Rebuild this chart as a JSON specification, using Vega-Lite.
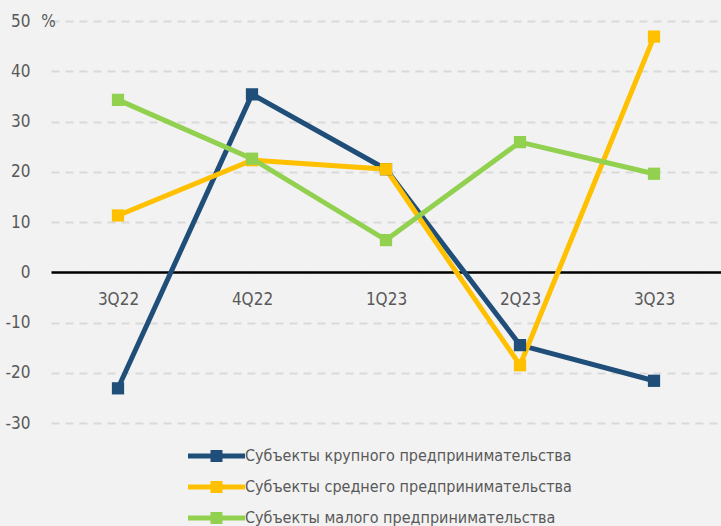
{
  "$schema": "https://vega.github.io/schema/vega-lite/v6.json",
  "width": 670,
  "height": 402,
  "autosize": {"type": "none"},
  "padding": {"left": 51, "top": 21, "right": 0, "bottom": 103},
  "background": "#f2f2f2",
  "config": {
    "view": {"stroke": null},
    "font": "DejaVu Sans Condensed"
  },
  "data": {
    "values": [
      {"q": "3Q22", "s": "Субъекты крупного предпринимательства", "v": -23.1},
      {"q": "4Q22", "s": "Субъекты крупного предпринимательства", "v": 35.4},
      {"q": "1Q23", "s": "Субъекты крупного предпринимательства", "v": 20.5},
      {"q": "2Q23", "s": "Субъекты крупного предпринимательства", "v": -14.5},
      {"q": "3Q23", "s": "Субъекты крупного предпринимательства", "v": -21.6},
      {"q": "3Q22", "s": "Субъекты среднего предпринимательства", "v": 11.3},
      {"q": "4Q22", "s": "Субъекты среднего предпринимательства", "v": 22.3},
      {"q": "1Q23", "s": "Субъекты среднего предпринимательства", "v": 20.5},
      {"q": "2Q23", "s": "Субъекты среднего предпринимательства", "v": -18.5},
      {"q": "3Q23", "s": "Субъекты среднего предпринимательства", "v": 46.9},
      {"q": "3Q22", "s": "Субъекты малого предпринимательства", "v": 34.3},
      {"q": "4Q22", "s": "Субъекты малого предпринимательства", "v": 22.6},
      {"q": "1Q23", "s": "Субъекты малого предпринимательства", "v": 6.4},
      {"q": "2Q23", "s": "Субъекты малого предпринимательства", "v": 25.9},
      {"q": "3Q23", "s": "Субъекты малого предпринимательства", "v": 19.6}
    ]
  },
  "encoding": {
    "x": {
      "field": "q", "type": "nominal", "sort": null,
      "scale": {"type": "point", "padding": 0.5},
      "axis": {
        "title": null, "orient": "bottom", "offset": -151,
        "domainColor": "#000000", "domainWidth": 2.5,
        "ticks": false, "grid": false,
        "labelAngle": 0, "labelPadding": 19, "labelFontSize": 17,
        "labelColor": "#595959", "labelFont": "DejaVu Sans Condensed"
      }
    },
    "y": {
      "field": "v", "type": "quantitative",
      "scale": {"domain": [-30, 50], "nice": false, "zero": false},
      "axis": {
        "values": [-30, -20, -10, 0, 10, 20, 30, 40, 50],
        "labelExpr": "datum.value < 0 ? '-' + abs(datum.value) : '' + datum.value",
        "title": "%", "titleAngle": 0, "titleX": -3, "titleY": 0,
        "titleAlign": "center", "titleBaseline": "middle",
        "titleFontSize": 17, "titleFontWeight": "normal", "titleColor": "#595959",
        "titleFont": "DejaVu Sans Condensed",
        "domain": false, "ticks": false,
        "labelPadding": 21, "labelFontSize": 17, "labelColor": "#595959",
        "labelFont": "DejaVu Sans Condensed",
        "gridColor": "#d9d9d9", "gridWidth": 2, "gridDash": [8, 6]
      }
    },
    "color": {
      "field": "s", "type": "nominal",
      "sort": ["Субъекты крупного предпринимательства", "Субъекты среднего предпринимательства", "Субъекты малого предпринимательства"],
      "scale": {
        "domain": ["Субъекты крупного предпринимательства", "Субъекты среднего предпринимательства", "Субъекты малого предпринимательства"],
        "range": ["#1f4e79", "#ffc000", "#92d050"]
      },
      "legend": {
        "title": null, "orient": "none", "legendX": 137, "legendY": 427,
        "symbolType": "M-4.75,-0.42H4.75V0.42H-4.75Z M-1,-1H1V1H-1Z",
        "symbolSize": 144, "symbolStrokeWidth": 0,
        "labelFontSize": 16, "labelColor": "#595959", "labelFont": "DejaVu Sans Condensed",
        "labelOffset": 41, "rowPadding": 15, "labelLimit": 500,
        "encode": {
          "symbols": {
            "update": {
              "x": {"value": 28.5},
              "fill": {"scale": "color", "field": "value"},
              "fillOpacity": {"value": 1},
              "strokeWidth": {"value": 0}
            }
          }
        }
      }
    }
  },
  "layer": [
    {"mark": {"type": "line", "strokeWidth": 5}},
    {"mark": {"type": "point", "shape": "square", "filled": true, "size": 150, "opacity": 1}}
  ]
}
